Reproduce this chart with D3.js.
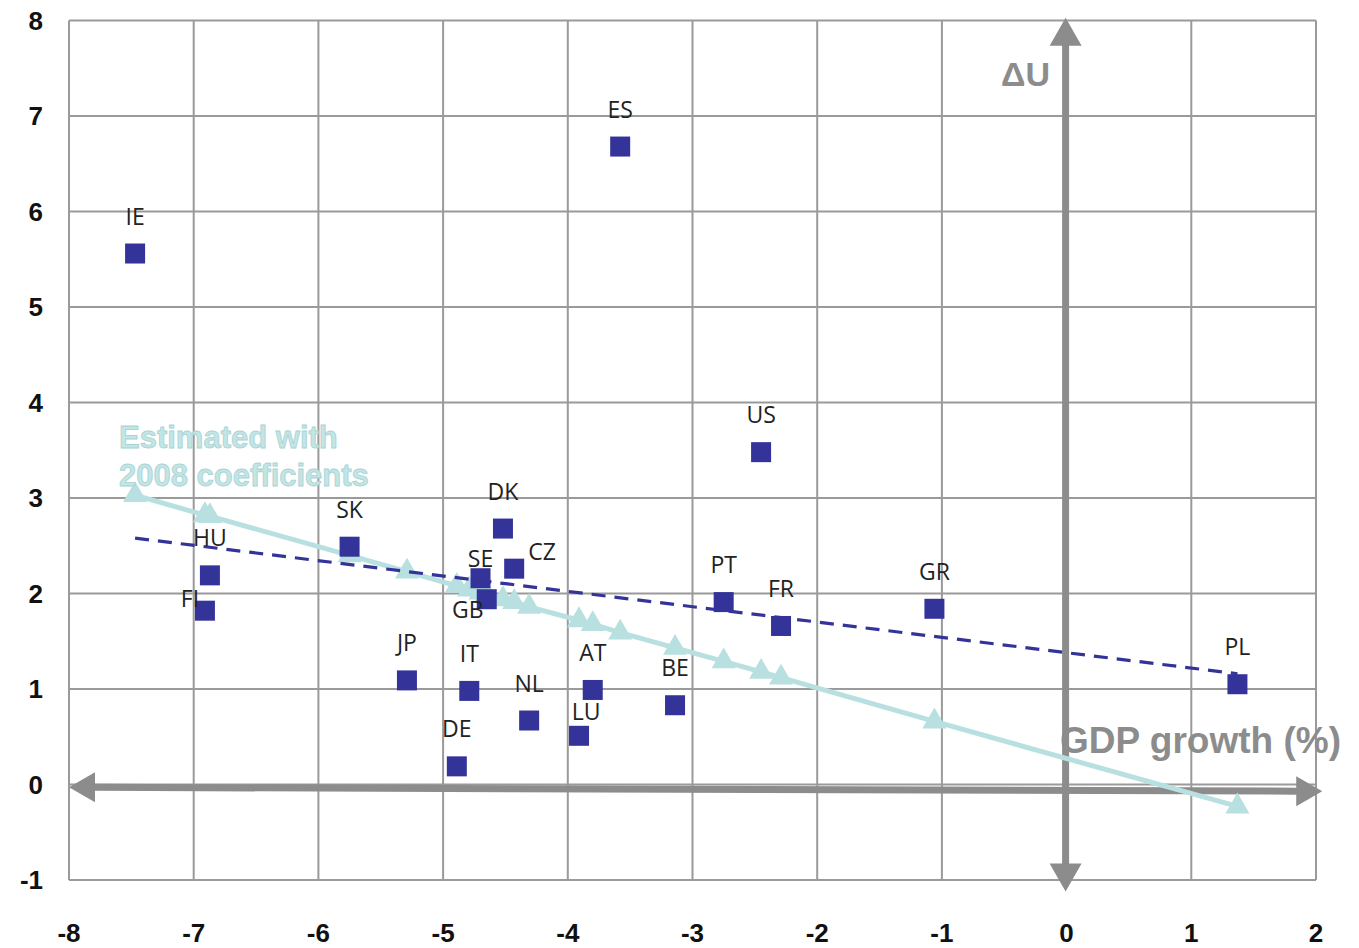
<!DOCTYPE html>
<html>
<head>
<meta charset="utf-8">
<script src="https://cdn.jsdelivr.net/npm/d3@7"></script>
<style>
  body { margin: 0; background: #fff; }
  .tick-label { font-family: "Liberation Sans", Arial, sans-serif; font-size: 26px; font-weight: 600; fill: #111; }
  .country { font-family: "Open Sans", sans-serif; font-size: 23px; fill: #222; }
</style>
</head>
<body>
<div id="chart"></div>
<script>
// countries, GDP growth (x) and change in unemployment (y)
var countries = ['IE', 'ES', 'US', 'DK', 'SK', 'HU', 'FI', 'SE', 'CZ', 'GB', 'PT',
                 'FR', 'GR', 'PL', 'JP', 'IT', 'NL', 'AT', 'LU', 'BE', 'DE'];
var gdpGrowth = [-7.47, -3.58, -2.45, -4.52, -5.75, -6.87, -6.91, -4.70, -4.43, -4.65, -2.75,
                 -2.29, -1.06, 1.37, -5.29, -4.79, -4.31, -3.80, -3.91, -3.14, -4.89];
var deltaU    = [5.56, 6.68, 3.48, 2.68, 2.49, 2.19, 1.82, 2.16, 2.26, 1.94, 1.91,
                 1.66, 1.84, 1.05, 1.09, 0.98, 0.67, 0.99, 0.51, 0.83, 0.19];
// estimated with 2008 coefficients
var estimated = [3.03, 1.59, 1.18, 1.94, 2.40, 2.81, 2.82, 2.01, 1.91, 1.99, 1.29,
                 1.12, 0.66, -0.23, 2.23, 2.04, 1.86, 1.68, 1.72, 1.43, 2.08];
// dashed trend line through the actual points
var trendX = [-7.47, 1.37];
var trendY = [2.58, 1.16];

var xTicks = [-8, -7, -6, -5, -4, -3, -2, -1, 0, 1, 2];
var yTicks = [-1, 0, 1, 2, 3, 4, 5, 6, 7, 8];

// label placement tweaks (pixels from the marker centre)
var labelOffset = {
  FI: [-15, -12], SE: [0, -19], CZ: [28, -17], GB: [-19, 11], LU: [7, -24]
};

var width = 1359, height = 948;
var gray = '#8c8c8c', blue = '#333399', cyan = '#b8e0e0';

var svg = d3.select('#chart').append('svg')
    .attr('width', width)
    .attr('height', height);

var x = d3.scaleLinear().domain([-8, 2]).range([69, 1316]),
    y = d3.scaleLinear().domain([-1, 8]).range([880, 20.5]);

var data = countries.map(function(c, i) {
  return { c: c, x: gdpGrowth[i], y: deltaU[i], est: estimated[i] };
});

// grid
svg.append('g').selectAll('line')
  .data(xTicks)
    .enter().append('line')
  .attr('x1', function(d) { return x(d); })
  .attr('x2', function(d) { return x(d); })
  .attr('y1', y(8)).attr('y2', y(-1))
  .style('stroke', '#9a9a9a').style('stroke-width', 2);

svg.append('g').selectAll('line')
  .data(yTicks)
    .enter().append('line')
  .attr('y1', function(d) { return y(d); })
  .attr('y2', function(d) { return y(d); })
  .attr('x1', x(-8)).attr('x2', x(2))
  .style('stroke', '#9a9a9a').style('stroke-width', 2);

// tick labels
svg.append('g').selectAll('text')
  .data(xTicks)
    .enter().append('text')
  .attr('class', 'tick-label')
  .attr('x', function(d) { return x(d); })
  .attr('y', 942)
  .attr('text-anchor', 'middle')
  .text(function(d) { return d; });

svg.append('g').selectAll('text')
  .data(yTicks)
    .enter().append('text')
  .attr('class', 'tick-label')
  .attr('x', 43)
  .attr('y', function(d) { return y(d) + 9; })
  .attr('text-anchor', 'end')
  .text(function(d) { return d; });

// big axis arrows
var arrows = svg.append('g').style('fill', gray).style('stroke', 'none');

var hy0 = y(-0.03), hy1 = y(-0.07), hl = x(-8), hr = x(2.05);
arrows.append('path')
  .attr('d', 'M' + hl + ',' + hy0 +
    'L' + (hl + 26) + ',' + (hy0 - 15) + 'L' + (hl + 26) + ',' + (hy0 - 3.5) +
    'L' + (hr - 26) + ',' + (hy1 - 3.5) + 'L' + (hr - 26) + ',' + (hy1 - 15) +
    'L' + hr + ',' + hy1 +
    'L' + (hr - 26) + ',' + (hy1 + 15) + 'L' + (hr - 26) + ',' + (hy1 + 3.5) +
    'L' + (hl + 26) + ',' + (hy0 + 3.5) + 'L' + (hl + 26) + ',' + (hy0 + 15) + 'Z');

var vx = x(0) - 1, vt = y(8.03), vb = y(-1.12);
arrows.append('path')
  .attr('d', 'M' + vx + ',' + vt +
    'L' + (vx + 16) + ',' + (vt + 28) + 'L' + (vx + 3.5) + ',' + (vt + 28) +
    'L' + (vx + 3.5) + ',' + (vb - 28) + 'L' + (vx + 16) + ',' + (vb - 28) +
    'L' + vx + ',' + vb +
    'L' + (vx - 16) + ',' + (vb - 28) + 'L' + (vx - 3.5) + ',' + (vb - 28) +
    'L' + (vx - 3.5) + ',' + (vt + 28) + 'L' + (vx - 16) + ',' + (vt + 28) + 'Z');

// axis titles
svg.append('text')
  .attr('x', 1050).attr('y', 86)
  .attr('text-anchor', 'end')
  .style('font-family', '"Liberation Sans", Arial, sans-serif')
  .style('font-size', '34px').style('font-weight', 'bold')
  .style('fill', gray)
  .text('ΔU');

svg.append('text')
  .attr('x', 1341).attr('y', 753)
  .attr('text-anchor', 'end')
  .style('font-family', '"Liberation Sans", Arial, sans-serif')
  .style('font-size', '37px').style('font-weight', 'bold')
  .style('fill', gray)
  .text('GDP growth (%)');

// estimated line + triangles
var sorted = data.slice().sort(function(a, b) { return a.x - b.x; });
var line = d3.line()
  .x(function(d) { return x(d.x); })
  .y(function(d) { return y(d.est); });

svg.append('path')
  .datum(sorted)
  .attr('d', line)
  .style('fill', 'none')
  .style('stroke', cyan)
  .style('stroke-width', 5);

svg.append('g').selectAll('path')
  .data(sorted)
    .enter().append('path')
  .attr('transform', function(d) { return 'translate(' + x(d.x) + ',' + y(d.est) + ')'; })
  .attr('d', d3.symbol().type(d3.symbolTriangle).size(250))
  .style('fill', cyan);

// dashed trend line
svg.append('line')
  .attr('x1', x(trendX[0])).attr('y1', y(trendY[0]))
  .attr('x2', x(trendX[1])).attr('y2', y(trendY[1]))
  .style('stroke', blue)
  .style('stroke-width', 3.2)
  .style('stroke-dasharray', '14,9');

// estimated label
var est = svg.append('text')
  .style('font-family', '"Liberation Sans", Arial, sans-serif')
  .style('font-size', '31px').style('font-weight', 'bold')
  .style('fill', '#c2e5e5').style('stroke', '#a9d3d4').style('stroke-width', 0.8);
est.append('tspan').attr('x', 119).attr('y', 448).text('Estimated with');
est.append('tspan').attr('x', 119).attr('y', 486).text('2008 coefficients');

// actual points
svg.append('g').selectAll('rect')
  .data(data)
    .enter().append('rect')
  .attr('x', function(d) { return x(d.x) - 10; })
  .attr('y', function(d) { return y(d.y) - 10; })
  .attr('width', 20)
  .attr('height', 20)
  .style('fill', blue);

svg.append('g').selectAll('text')
  .data(data)
    .enter().append('text')
  .attr('class', 'country')
  .attr('text-anchor', 'middle')
  .attr('x', function(d) { return x(d.x) + (labelOffset[d.c] ? labelOffset[d.c][0] : 0); })
  .attr('y', function(d) { return y(d.y) + (labelOffset[d.c] ? labelOffset[d.c][1] : -37) + 8; })
  .text(function(d) { return d.c; });
</script>
</body>
</html>
